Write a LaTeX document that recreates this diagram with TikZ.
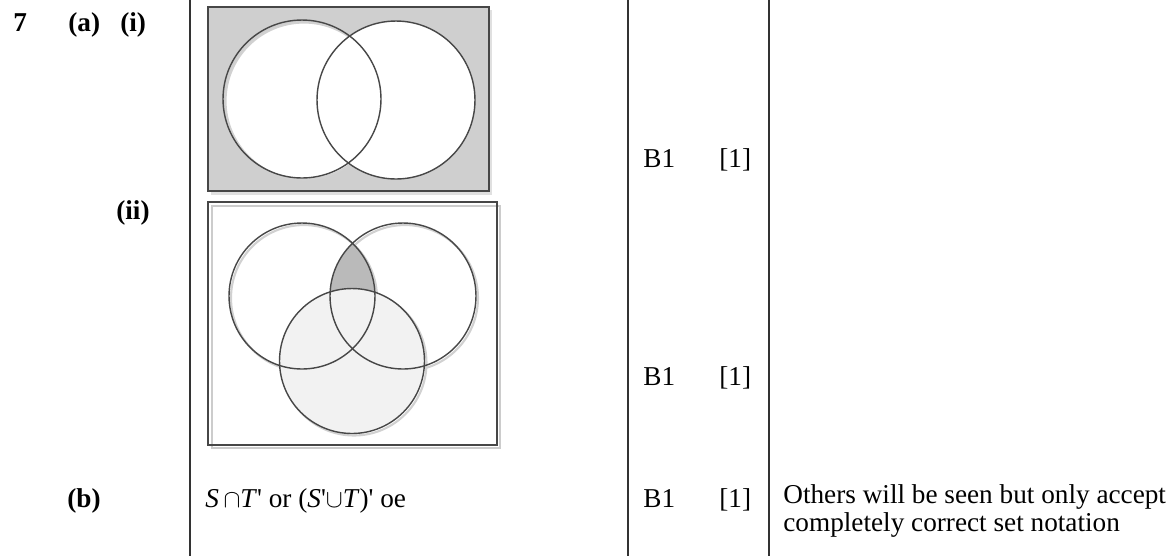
\documentclass[tikz,border=0pt]{standalone}
\usepackage{fontspec}
\setmainfont{Liberation Serif}
\usetikzlibrary{positioning}

\begin{document}
\begin{tikzpicture}[x=0.02cm,y=-0.02cm,font=\fontsize{15.5}{18}\selectfont,
 num/.style={font=\fontsize{15.5}{18}\selectfont\bfseries,anchor=base west,inner sep=0pt},
 txt/.style={anchor=base west,inner sep=0pt},
 rim/.style={draw=black!72,line width=0.8pt},
 ghost/.style={draw=black!18,line width=1.2pt}]
\useasboundingbox (0,0) rectangle (1174,556);
% table rules
\draw[line width=0.9pt,black!80] (190,0) -- (190,556) (628,0) -- (628,556) (769,0) -- (769,556);
% labels
\node[num] (q) at (13,31) {7};
\node[num] (qa) at (68,31) {(a)};
\node[num] (qi) at (120,31) {(i)};
\node[num] (qii) at (116,219) {(ii)};
\node[num] (qb) at (67,507) {(b)};
% (i): complement of the union
\fill[black!12] (211,10) rectangle (492,195);
\filldraw[fill=black!19,rim] (208,7) rectangle (489,191);
\draw[ghost,fill=white] (304,101) circle[radius=1.57cm];
\fill[white] (396,100) circle[radius=1.58cm];
\draw[rim] (302,99) circle[radius=1.58cm];
\draw[rim] (396,100) circle[radius=1.58cm];
% (ii): A and B but not C
\draw[black!20,line width=1pt] (212,206) rectangle (500,448);
\draw[rim] (208,202) rectangle (497,445);
\draw[ghost] (304,298) circle[radius=1.46cm];
\draw[ghost] (405,298) circle[radius=1.46cm];
\draw[ghost] (354,363) circle[radius=1.45cm];
\begin{scope}
 \clip (302,296) circle[radius=1.46cm];
 \clip (403,296) circle[radius=1.46cm];
 \fill[black!27] (300,200) rectangle (420,380);
\end{scope}
\fill[black!5] (352,361) circle[radius=1.45cm];
\draw[rim] (302,296) circle[radius=1.46cm];
\draw[rim] (403,296) circle[radius=1.46cm];
\draw[rim] (352,361) circle[radius=1.45cm];
% marks
\node[txt] (m1) at (643,167) {B1};
\node[txt] (t1) at (719,167) {[1]};
\node[txt] (m2) at (643,385) {B1};
\node[txt] (t2) at (719,385) {[1]};
\node[txt] (ans) at (205,507) {\textit{S}\,$\cap$\textit{T}\textquotesingle{} or (\textit{S}\textquotesingle$\cup$\textit{T})\textquotesingle{} oe};
\node[txt] (m3) at (643,507) {B1};
\node[txt] (t3) at (719,507) {[1]};
\node[txt] (note) at (783,503) {Others will be seen but only accept};
\node[txt] (note2) at (783,531) {completely correct set notation};
\end{tikzpicture}
\end{document}
